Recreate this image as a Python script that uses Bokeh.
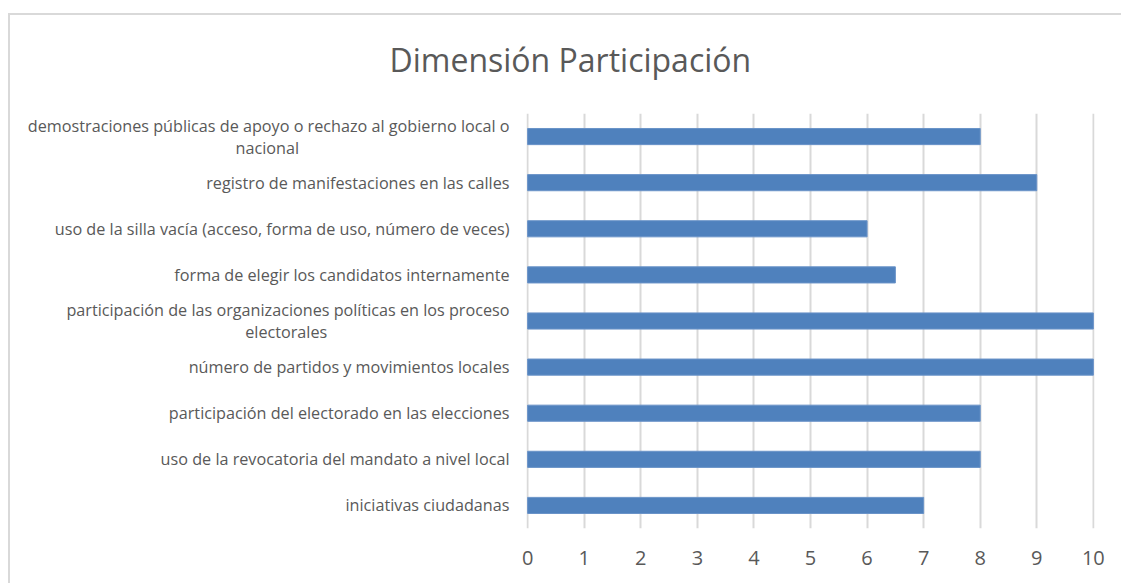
from bokeh.plotting import figure
from bokeh.models import FactorRange, Range1d, ColumnDataSource, FixedTicker
from bokeh.embed import file_html
from bokeh.resources import INLINE

categories = [
    "demostraciones públicas de apoyo o rechazo al gobierno local o\nnacional",
    "registro de manifestaciones en las calles",
    "uso de la silla vacía (acceso, forma de uso, número de veces)",
    "forma de elegir los candidatos internamente",
    "participación de las organizaciones políticas en los proceso\nelectorales",
    "número de partidos y movimientos locales",
    "participación del electorado en las elecciones",
    "uso de la revocatoria del mandato a nivel local",
    "iniciativas ciudadanas",
]
values = [8, 9, 6, 6.5, 10, 10, 8, 8, 7]
x_ticks = [0, 1, 2, 3, 4, 5, 6, 7, 8, 9, 10]

FONT = "Open Sans"
GRAY = "#595959"

# Bokeh right-aligns every line of a multi-line tick label; the original
# centres the second line under the first, so pad it with em spaces.
EM = "\u2003"
second_line_pad = {0: EM * 13, 4: EM * 11 + "\u00a0"}


def display_label(i, c):
    if "\n" in c:
        first, second = c.split("\n")
        return first + "\n" + second + second_line_pad.get(i, "")
    return c


labels = [display_label(i, c) for i, c in enumerate(categories)]
src = ColumnDataSource(dict(cat=labels, val=values))

p = figure(
    width=1121, height=583,
    y_range=FactorRange(factors=list(reversed(labels))),
    x_range=Range1d(-0.02, 10.02),
    output_backend="svg", toolbar_location=None,
    min_border_left=526, min_border_right=27,
    min_border_top=113, min_border_bottom=55,
)
# light chart-area border (top and left edges), drawn behind the canvas
p.styles = {
    "background-color": "white",
    "background-image": "linear-gradient(#d9d9d9, #d9d9d9), linear-gradient(#d9d9d9, #d9d9d9)",
    "background-repeat": "no-repeat",
    "background-position": "8px 13px, 8px 13px",
    "background-size": "2px 100%, 100% 2px",
}
p.border_fill_color = None
p.background_fill_color = None
p.outline_line_color = None

p.hbar(y="cat", right="val", left=0, height=0.35, source=src,
       fill_color="#4F81BD", line_color="#6a93c8", line_width=1)

p.title.text = "Dimensión Participación"
p.title.align = "left"
p.title.offset = -137
p.title.text_font = FONT
p.title.text_font_size = "32px"
p.title.text_font_style = "normal"
p.title.text_color = GRAY
p.title.standoff = 65

p.ygrid.grid_line_color = None
p.xgrid.grid_line_color = "#d9d9d9"
p.xgrid.grid_line_width = 2

p.xaxis.ticker = FixedTicker(ticks=x_ticks)
p.xaxis.axis_line_color = None
p.xaxis.major_tick_line_color = None
p.xaxis.minor_tick_line_color = None
p.xaxis.major_tick_out = 0
p.xaxis.major_label_standoff = 22
p.xaxis.major_label_text_font = FONT
p.xaxis.major_label_text_font_size = "20px"
p.xaxis.major_label_text_color = GRAY

p.yaxis.axis_line_color = None
p.yaxis.major_tick_line_color = None
p.yaxis.major_tick_out = 0
p.yaxis.major_label_standoff = 17
p.yaxis.major_label_text_font = FONT
p.yaxis.major_label_text_font_size = "16.2px"
p.yaxis.major_label_text_color = GRAY
p.yaxis.major_label_text_line_height = 1.0

open("out.html", "w").write(file_html(p, INLINE))
